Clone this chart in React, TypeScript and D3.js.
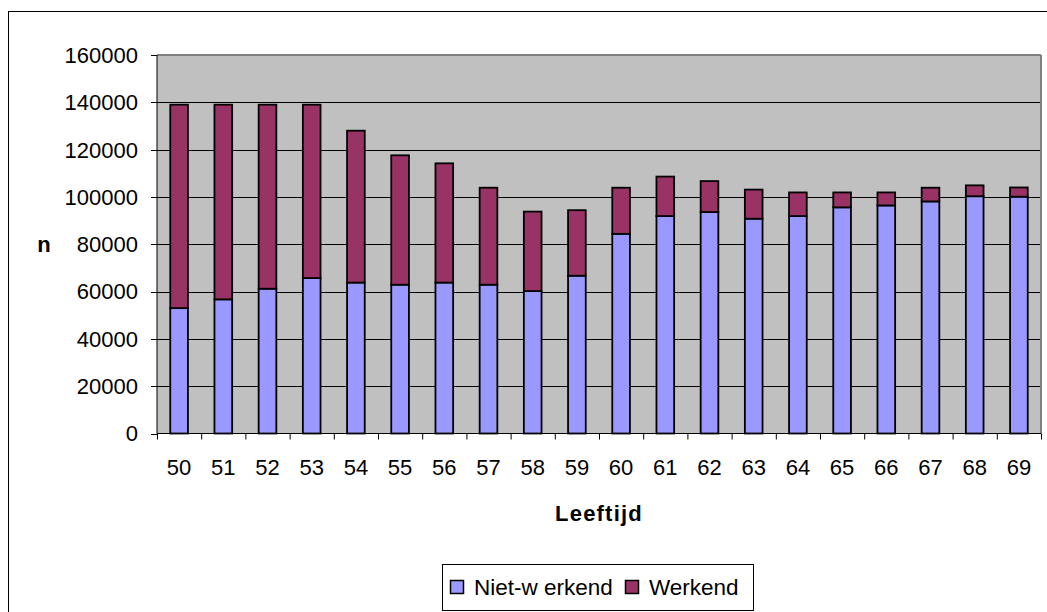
import React from "react";
import * as d3 from "d3";

const ages = ["50","51","52","53","54","55","56","57","58","59","60","61","62","63","64","65","66","67","68","69"];
const nietWerkend = [53000,56700,61200,65700,63800,62900,63800,62900,60200,66700,84400,91900,93600,90800,91900,95600,96400,98100,100300,100100];
const werkend = [86000,82300,77800,73300,64200,54700,50400,41000,33600,27700,19500,16700,13100,12300,10000,6300,5500,5800,4600,3900];
const yTicks = [0,20000,40000,60000,80000,100000,120000,140000,160000];
const seriesNames = ["Niet-w erkend","Werkend"];
const seriesColors = ["#9999FF","#993366"];

export default function App() {
  const W = 1047, H = 612;
  const left = 157, right = 1041, top = 55, bottom = 433.5;
  const x = d3.scaleBand<string>().domain(ages).range([left, right]).paddingInner(0.6).paddingOuter(0.3);
  const y = d3.scaleLinear().domain([0, 160000]).range([bottom, top]);
  const font = "'Liberation Sans', Arial, sans-serif";
  const step = x.step();
  const bw = x.bandwidth();
  return (
    <svg width={W} height={H} style={{ position: "absolute", left: 0, top: 0, background: "#fff" }} fontFamily={font}>
      <rect x={8.5} y={11.5} width={1100} height={700} fill="#fff" stroke="#000" strokeWidth={1} />
      <rect x={left} y={top} width={right - left} height={bottom - top} fill="#C0C0C0" />
      {yTicks.slice(1, -1).map(t => (
        <line key={"g" + t} x1={left} x2={right} y1={Math.round(y(t)) + 0.5} y2={Math.round(y(t)) + 0.5} stroke="#000" strokeWidth={1} />
      ))}
      <line x1={left} x2={right} y1={top} y2={top} stroke="#808080" strokeWidth={2} />
      <line x1={right} x2={right} y1={top} y2={bottom} stroke="#808080" strokeWidth={2} />
      {ages.map((a, i) => {
        const x0 = x(a)!;
        const yb = y(nietWerkend[i]);
        const yt = y(nietWerkend[i] + werkend[i]);
        return (
          <g key={a}>
            <rect x={x0} y={yb} width={bw} height={bottom - yb} fill={seriesColors[0]} stroke="#000" strokeWidth={1.8} />
            <rect x={x0} y={yt} width={bw} height={yb - yt} fill={seriesColors[1]} stroke="#000" strokeWidth={1.8} />
          </g>
        );
      })}
      <line x1={left} x2={left} y1={top} y2={bottom} stroke="#000" strokeWidth={1} />
      <line x1={left} x2={right} y1={bottom} y2={bottom} stroke="#000" strokeWidth={1} />
      {yTicks.map(t => (
        <g key={"t" + t}>
          <line x1={left - 6} x2={left} y1={Math.round(y(t)) + 0.5} y2={Math.round(y(t)) + 0.5} stroke="#000" />
          <text x={138} y={y(t)} dy="0.36em" textAnchor="end" fontSize={22} fill="#000">{t}</text>
        </g>
      ))}
      {d3.range(ages.length + 1).map(i => (
        <line key={"xt" + i} x1={left + i * step + 0.5} x2={left + i * step + 0.5} y1={bottom} y2={bottom + 6} stroke="#000" />
      ))}
      {ages.map(a => (
        <text key={"xl" + a} x={x(a)! + bw / 2} y={475} textAnchor="middle" fontSize={22} fill="#000">{a}</text>
      ))}
      <text x={(left + right) / 2} y={521} textAnchor="middle" fontSize={22} fontWeight="bold" letterSpacing={1.2} fill="#000">Leeftijd</text>
      <text x={44} y={252} textAnchor="middle" fontSize={22} fontWeight="bold" fill="#000">n</text>
      <rect x={442.5} y={564.5} width={311} height={46} fill="#fff" stroke="#000" strokeWidth={1} />
      {seriesNames.map((s, i) => {
        const lx = i === 0 ? 450 : 625;
        return (
          <g key={s}>
            <rect x={lx + 0.5} y={580.5} width={13} height={13} fill={seriesColors[i]} stroke="#000" strokeWidth={1.5} />
            <text x={lx + 24} y={594.5} fontSize={22.5} fill="#000">{s}</text>
          </g>
        );
      })}
    </svg>
  );
}
